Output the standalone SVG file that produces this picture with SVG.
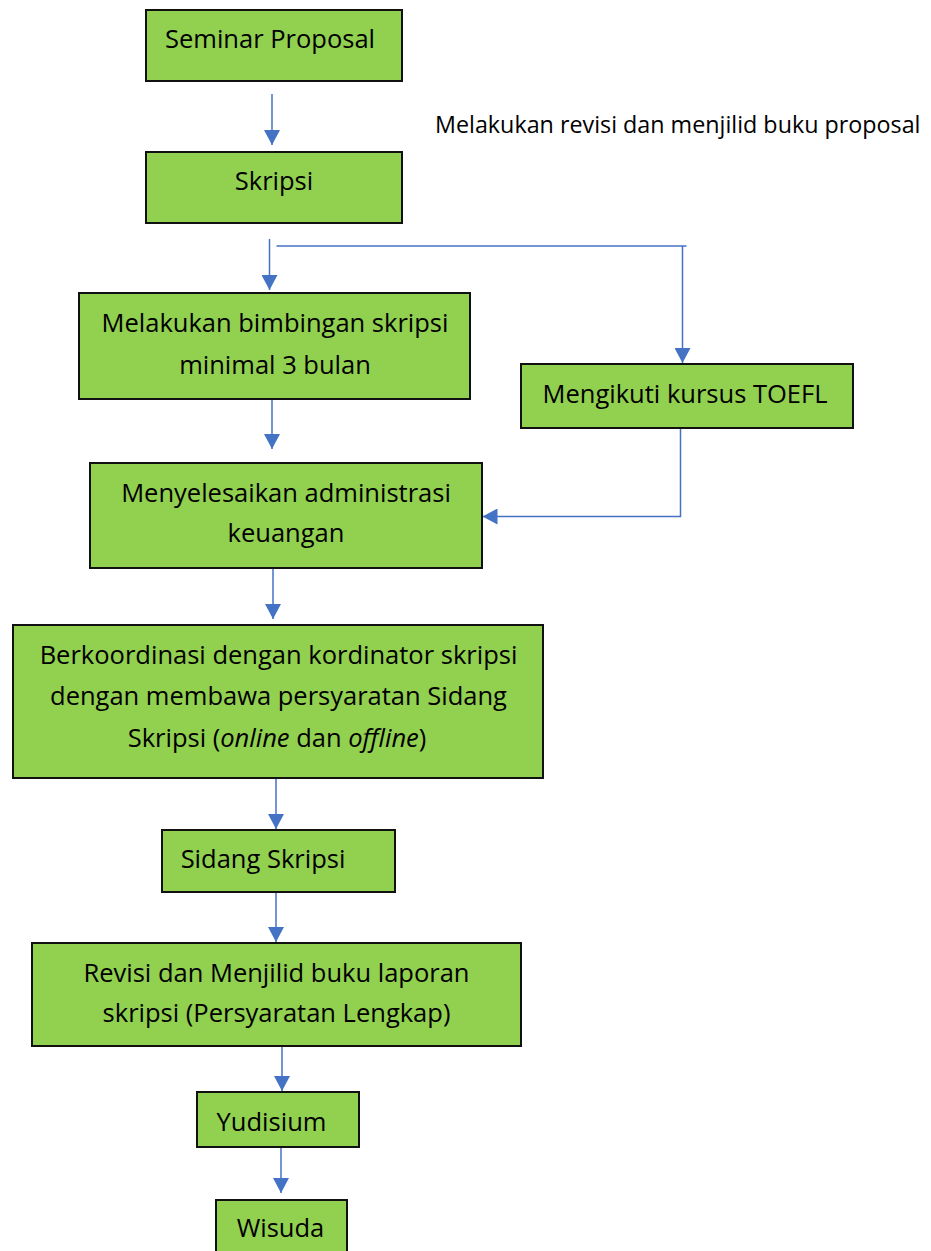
<svg xmlns="http://www.w3.org/2000/svg" width="931" height="1251" viewBox="0 0 931 1251">
<style>
.box{fill:#92D050;stroke:#111;stroke-width:2}
.t{font-family:"Open Sans","Noto Sans",sans-serif;font-size:25.5px;fill:#000;text-anchor:middle}
.note{font-family:"Open Sans","Noto Sans",sans-serif;font-size:23.3px;fill:#000}
.c{fill:none;stroke:#4472C4;stroke-width:1.5}
</style>
<defs>
<marker id="ah" viewBox="0 0 15 16" refX="15" refY="8" markerWidth="15" markerHeight="16" markerUnits="userSpaceOnUse" orient="auto">
<path d="M0,0 L15,8 L0,16 Z" fill="#4472C4"/>
</marker>
</defs>
<rect width="931" height="1251" fill="#fff"/>

<g id="connectors">
<line class="c" x1="272" y1="94" x2="272" y2="145" marker-end="url(#ah)"/>
<line class="c" x1="269.5" y1="239" x2="269.5" y2="290" marker-end="url(#ah)"/>
<polyline class="c" points="276.5,246 686.5,246"/>
<line class="c" x1="682.5" y1="246" x2="682.5" y2="363" marker-end="url(#ah)"/>
<line class="c" x1="272" y1="399" x2="272" y2="449" marker-end="url(#ah)"/>
<polyline class="c" points="680.5,428 680.5,516.5 482.5,516.5" marker-end="url(#ah)"/>
<line class="c" x1="273" y1="568" x2="273" y2="619" marker-end="url(#ah)"/>
<line class="c" x1="276" y1="778" x2="276" y2="829" marker-end="url(#ah)"/>
<line class="c" x1="276" y1="892" x2="276" y2="942" marker-end="url(#ah)"/>
<line class="c" x1="282" y1="1040" x2="282" y2="1091" marker-end="url(#ah)"/>
<line class="c" x1="281" y1="1142" x2="281" y2="1193" marker-end="url(#ah)"/>
</g>

<g id="note">
<text class="note" x="435" y="133">Melakukan revisi dan menjilid buku proposal</text>
</g>

<g id="seminar">
<rect class="box" x="146" y="10" width="256" height="71"/>
<text class="t" x="270" y="47.5">Seminar Proposal</text>
</g>

<g id="skripsi">
<rect class="box" x="146" y="152" width="256" height="71"/>
<text class="t" x="274" y="190">Skripsi</text>
</g>

<g id="bimbingan">
<rect class="box" x="79" y="293" width="391" height="106"/>
<text class="t" x="275" y="332">Melakukan bimbingan skripsi</text>
<text class="t" x="275" y="374">minimal 3 bulan</text>
</g>

<g id="toefl">
<rect class="box" x="521" y="364" width="332" height="64"/>
<text class="t" x="685" y="403">Mengikuti kursus TOEFL</text>
</g>

<g id="administrasi">
<rect class="box" x="90" y="463" width="392" height="105"/>
<text class="t" x="286" y="501.5">Menyelesaikan administrasi</text>
<text class="t" x="286" y="541.5">keuangan</text>
</g>

<g id="koordinasi">
<rect class="box" x="13" y="625" width="530" height="153"/>
<text class="t" x="278.5" y="664">Berkoordinasi dengan kordinator skripsi</text>
<text class="t" x="278.5" y="705">dengan membawa persyaratan Sidang</text>
<text class="t" x="277" y="746.5">Skripsi (<tspan font-style="italic">online</tspan> dan <tspan font-style="italic">offline</tspan>)</text>
</g>

<g id="sidang">
<rect class="box" x="162" y="830" width="233" height="62"/>
<text class="t" x="263" y="868">Sidang Skripsi</text>
</g>

<g id="revisi">
<rect class="box" x="32" y="943" width="489" height="103"/>
<text class="t" x="276.5" y="981.5">Revisi dan Menjilid buku laporan</text>
<text class="t" x="276.5" y="1021.5">skripsi (Persyaratan Lengkap)</text>
</g>

<g id="yudisium">
<rect class="box" x="197" y="1092" width="162" height="55"/>
<text class="t" x="271.5" y="1130.5">Yudisium</text>
</g>

<g id="wisuda">
<rect class="box" x="216" y="1200" width="131" height="60"/>
<text class="t" x="280.5" y="1236.5">Wisuda</text>
</g>
</svg>
